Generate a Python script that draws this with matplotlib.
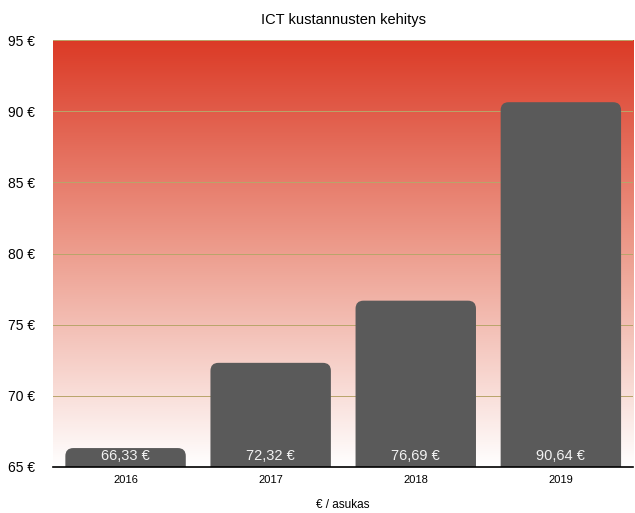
import numpy as np
import matplotlib.pyplot as plt
from matplotlib.colors import LinearSegmentedColormap
from matplotlib.patches import FancyBboxPatch

plt.rcParams['font.family'] = ['Liberation Sans', 'DejaVu Sans']

years = ['2016', '2017', '2018', '2019']
costs = [66.33, 72.32, 76.69, 90.64]
labels = ['66,33 €', '72,32 €', '76,69 €', '90,64 €']
yticks = [65, 70, 75, 80, 85, 90, 95]

fig = plt.figure(figsize=(6.35, 5.13), dpi=100)
ax = fig.add_axes([0.0835, 0.0897, 0.914, 0.832])

ymin, ymax = 65, 95
xmin, xmax = -0.5, 3.5
ax.set_xlim(xmin, xmax)
ax.set_ylim(ymin, ymax)

# background gradient, red at the top fading to white
cmap = LinearSegmentedColormap.from_list('bg', [(1, 1, 1), (0.93, 0.62, 0.56), (0.86, 0.23, 0.15)])
grad = np.linspace(0, 1, 256).reshape(-1, 1)
ax.imshow(grad, extent=[xmin, xmax, ymin, ymax], origin='lower', aspect='auto',
          cmap=cmap, zorder=0)

for t in yticks[1:]:
    ax.axhline(t, color='#b9a56a', lw=0.7, zorder=1)

# bars with rounded top corners; drawn from below the axis so only top shows rounding
w = 0.83
px_x = (0.914 * 635) / (xmax - xmin)
px_y = (0.832 * 513) / (ymax - ymin)
aspect = px_x / px_y
for i, v in enumerate(costs):
    p = FancyBboxPatch((i - w / 2, ymin - 2), w, v - ymin + 2,
                       boxstyle='round,pad=0,rounding_size=0.055',
                       mutation_aspect=aspect, fc='#5a5a5a', ec='none',
                       zorder=2, clip_on=True)
    ax.add_patch(p)
    p.set_clip_path(ax.patch)
    ax.text(i, ymin + 0.3, labels[i], ha='center', va='bottom', color='#f2f2f2',
            fontsize=10.5, zorder=3)

ax.set_xticks(range(len(years)))
ax.set_xticklabels(years, fontsize=8)
ax.set_yticks(yticks)
ax.set_yticklabels(['%d €' % t for t in yticks], fontsize=10)
ax.tick_params(length=0, pad=6)
ax.tick_params(axis='y', pad=13)
for s in ['top', 'right', 'left']:
    ax.spines[s].set_visible(False)
ax.spines['bottom'].set_linewidth(1.2)
ax.spines['bottom'].set_zorder(4)

ax.set_title('ICT kustannusten kehitys', fontsize=10.5, pad=12)
ax.set_xlabel('€ / asukas', fontsize=8.5, labelpad=10)

fig.savefig('out.png', dpi=100)
